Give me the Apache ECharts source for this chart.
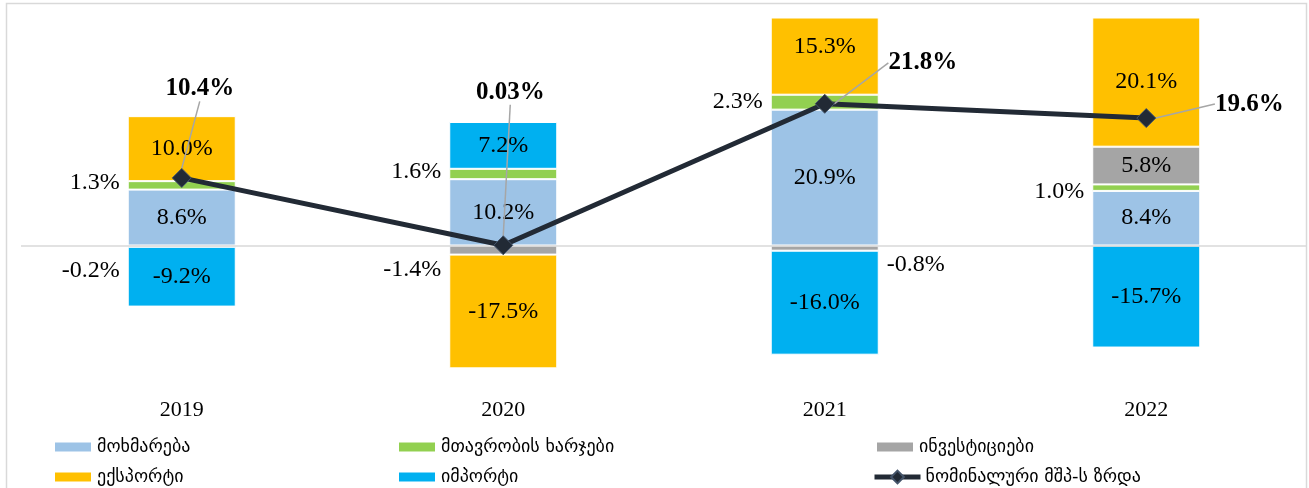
<!DOCTYPE html>
<html>
<head>
<meta charset="utf-8">
<script src="https://cdn.jsdelivr.net/npm/echarts@6/dist/echarts.min.js"></script>
<style>
  html, body { margin: 0; padding: 0; background: #fff; }
  #chart { width: 1309px; height: 488px; }
</style>
</head>
<body>
<div id="chart"></div>
<script>
// data (% contribution to nominal GDP growth)
const years = ['2019', '2020', '2021', '2022']
const consumption = [8.6, 10.2, 20.9, 8.4]
const government = [1.3, 1.6, 2.3, 1.0]
const investment = [-0.2, -1.4, -0.8, 5.8]
const exportsData = [10.0, -17.5, 15.3, 20.1]
const importsData = [-9.2, 7.2, -16.0, -15.7]
const gdpGrowth = [10.4, 0.03, 21.8, 19.6]

const names = {
  consumption: 'მოხმარება',
  government: 'მთავრობის ხარჯები',
  investment: 'ინვესტიციები',
  exports: 'ექსპორტი',
  imports: 'იმპორტი',
  gdp: 'ნომინალური მშპ-ს ზრდა'
}

const colors = {
  consumption: '#9DC3E6',
  government: '#92D050',
  investment: '#A5A5A5',
  exports: '#FFC000',
  imports: '#00B0F0',
  gdp: '#222A35'
}

// label placement tweaks per segment: [position, vertical shift]
const labelTweaks = {
  government: [['left', -3], ['left', -2], ['left', 0], ['left', 4]],
  investment: [['left', 25], ['left', 20], ['right', 17], null],
  exports: [null, null, ['inside', -9], null]
}

// offsets of the bold growth labels from their points
const gdpLabelShift = [[18, -89], [7, -153], [98, -41], [103, -14]]

const numFont = '"Liberation Serif", "DejaVu Serif", serif'
const geoFont = '"DejaVu Sans", sans-serif'

const pct = v => v.toFixed(1) + '%'

const barSeries = (key, values) => ({
  name: names[key],
  type: 'bar',
  stack: 'total',
  barWidth: '33.6%',
  itemStyle: { color: colors[key], borderColor: '#fff', borderWidth: 1 },
  label: {
    show: true,
    position: 'inside',
    color: '#000',
    fontFamily: numFont,
    fontSize: 24,
    formatter: p => pct(p.value)
  },
  data: values.map((v, i) => {
    const t = labelTweaks[key] && labelTweaks[key][i]
    if (!t) return v
    return {
      value: v,
      label: { position: t[0], distance: 8, offset: [0, t[1]] }
    }
  })
})

const chart = echarts.init(document.getElementById('chart'))

// one legend per item so each sits where the original puts it
const legendItem = (name, left, top, extra) => Object.assign({
  left: left,
  top: top,
  itemWidth: 38,
  itemHeight: 11,
  itemGap: 6,
  icon: 'rect',
  data: [name],
  textStyle: { fontFamily: geoFont, fontSize: 18, color: '#000' }
}, extra || {})

const option = {
  animation: false,
  backgroundColor: '#fff',
  graphic: [{
    type: 'rect',
    silent: true,
    z: -1,
    shape: { x: 6.5, y: 3.5, width: 1300, height: 600 },
    style: { fill: 'none', stroke: '#d9d9d9', lineWidth: 1.5 }
  }],
  grid: { left: 21, right: 2, top: 18, bottom: 112.5 },
  legend: [
    legendItem(names.consumption, 48, 433),
    legendItem(names.exports, 48, 463),
    legendItem(names.government, 392, 433),
    legendItem(names.imports, 392, 463),
    legendItem(names.investment, 870, 433),
    legendItem(names.gdp, 867, 463, {
      itemWidth: 46,
      itemHeight: 16,
      icon: null,
      lineStyle: { width: 5, color: colors.gdp }
    })
  ],
  xAxis: {
    type: 'category',
    data: years,
    axisLine: { show: false, onZero: false },
    axisTick: { show: false },
    axisLabel: { margin: 24, color: '#000', fontFamily: numFont, fontSize: 22 }
  },
  yAxis: {
    type: 'value',
    min: -20,
    max: 35,
    show: false,
    splitLine: { show: false }
  },
  series: [
    Object.assign(barSeries('consumption', consumption), {
      markLine: {
        silent: true,
        symbol: 'none',
        label: { show: false },
        lineStyle: { color: '#d9d9d9', width: 1.5, type: 'solid' },
        data: [{ yAxis: 0 }]
      }
    }),
    barSeries('government', government),
    barSeries('investment', investment),
    barSeries('exports', exportsData),
    barSeries('imports', importsData),
    {
      name: names.gdp,
      type: 'line',
      z: 5,
      data: gdpGrowth,
      symbol: 'diamond',
      symbolSize: 19,
      lineStyle: { color: colors.gdp, width: 5 },
      itemStyle: { color: colors.gdp, borderColor: '#44546A', borderWidth: 1 },
      label: {
        show: true,
        position: 'inside',
        color: '#000',
        fontFamily: numFont,
        fontWeight: 'bold',
        fontSize: 25,
        formatter: p => p.value + '%'
      },
      labelLayout: p => ({ dx: gdpLabelShift[p.dataIndex][0], dy: gdpLabelShift[p.dataIndex][1] }),
      labelLine: { show: true, lineStyle: { color: '#A6A6A6', width: 1.5 } }
    }
  ]
}

chart.setOption(option)
</script>
</body>
</html>
